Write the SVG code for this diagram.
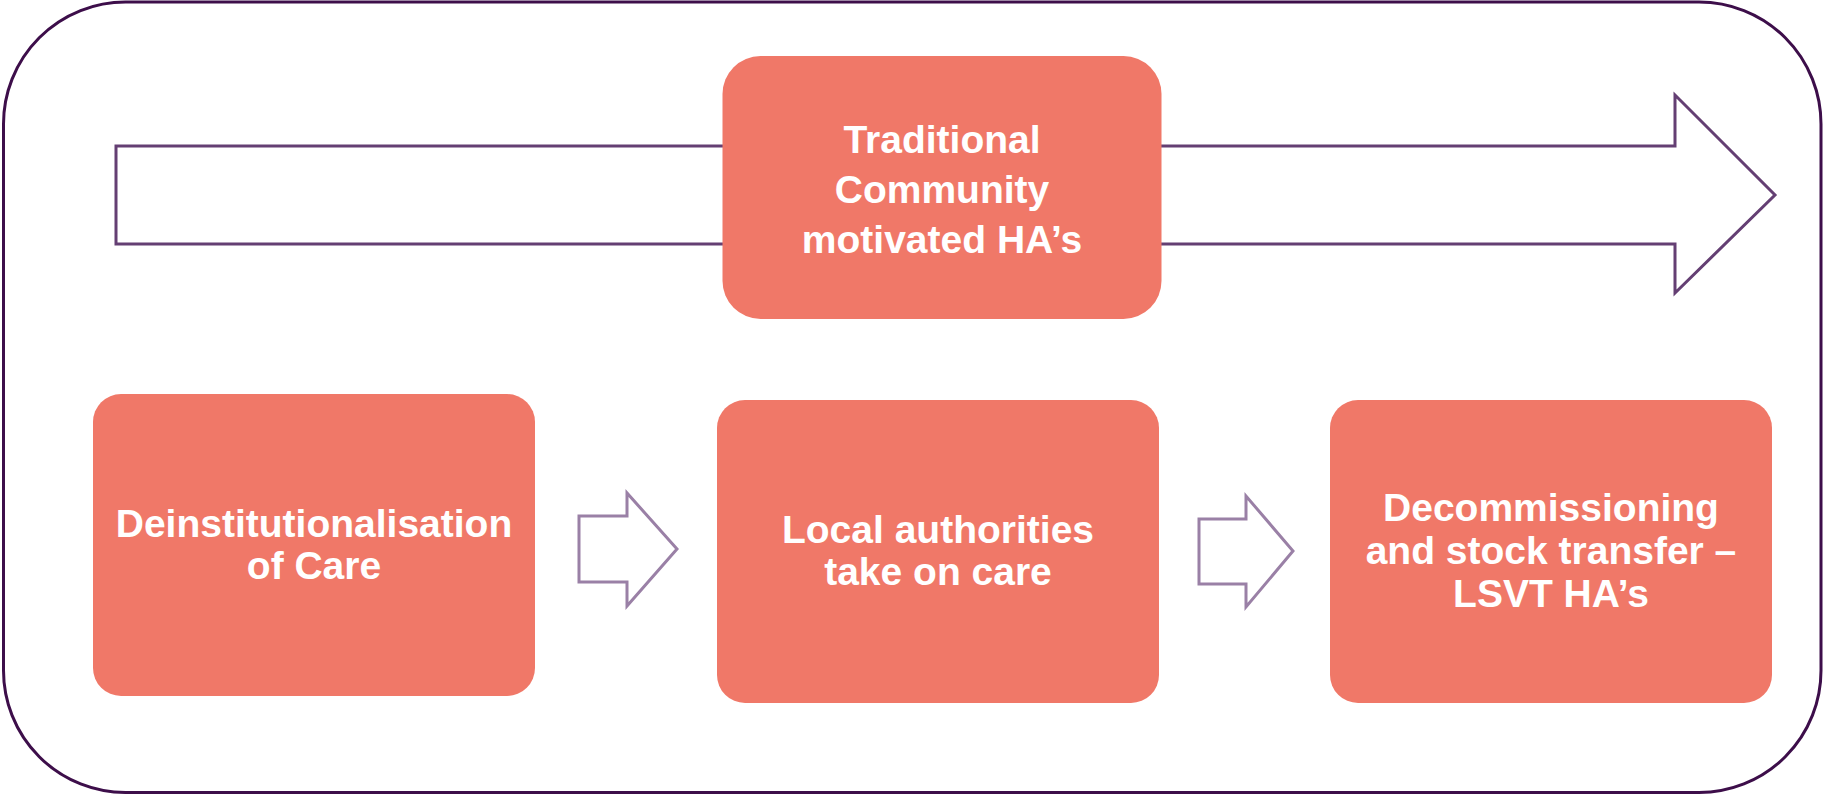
<svg xmlns="http://www.w3.org/2000/svg" width="1824" height="795" viewBox="0 0 1824 795">
  <style>
    .box { fill: #F07868; }
    .lbl { font-family: "Liberation Sans", Arial, sans-serif; font-weight: bold; font-size: 39px; fill: #FFFFFF; text-anchor: middle; }
    .big { fill: #FFFFFF; stroke: #643F73; stroke-width: 3; stroke-linejoin: miter; }
    .small { fill: #FFFFFF; stroke: #9A80A6; stroke-width: 3; stroke-linejoin: miter; }
  </style>
  <rect x="0" y="0" width="1824" height="795" fill="#FFFFFF"/>
  <rect id="frame" x="3.5" y="2" width="1817.5" height="790.5" rx="122" ry="122" fill="none" stroke="#3D0E4A" stroke-width="3"/>
  <g id="connectors">
    <polygon id="timeline-arrow" class="big" points="116,146 1675,146 1675,95 1775,195 1675,293 1675,244 116,244"/>
    <polygon id="arrow-1" class="small" points="579,516 627,516 627,493 677,549 627,606 627,582 579,582"/>
    <polygon id="arrow-2" class="small" points="1199,519 1246,519 1246,496 1293,551 1246,607 1246,584 1199,584"/>
  </g>
  <g id="node-traditional">
    <rect class="box" x="722.5" y="56" width="439" height="263" rx="38" ry="38"/>
    <text class="lbl"><tspan x="942" y="153">Traditional</tspan><tspan x="942" y="203">Community</tspan><tspan x="942" y="253">motivated HA’s</tspan></text>
  </g>
  <g id="node-deinstitutionalisation">
    <rect class="box" x="93" y="394" width="442" height="302" rx="28" ry="28"/>
    <text class="lbl"><tspan x="314" y="537">Deinstitutionalisation</tspan><tspan x="314" y="579">of Care</tspan></text>
  </g>
  <g id="node-local-authorities">
    <rect class="box" x="717" y="400" width="442" height="303" rx="28" ry="28"/>
    <text class="lbl"><tspan x="938" y="543">Local authorities</tspan><tspan x="938" y="585">take on care</tspan></text>
  </g>
  <g id="node-decommissioning">
    <rect class="box" x="1330" y="400" width="442" height="303" rx="28" ry="28"/>
    <text class="lbl"><tspan x="1551" y="521">Decommissioning</tspan><tspan x="1551" y="564">and stock transfer –</tspan><tspan x="1551" y="607">LSVT HA’s</tspan></text>
  </g>
</svg>
